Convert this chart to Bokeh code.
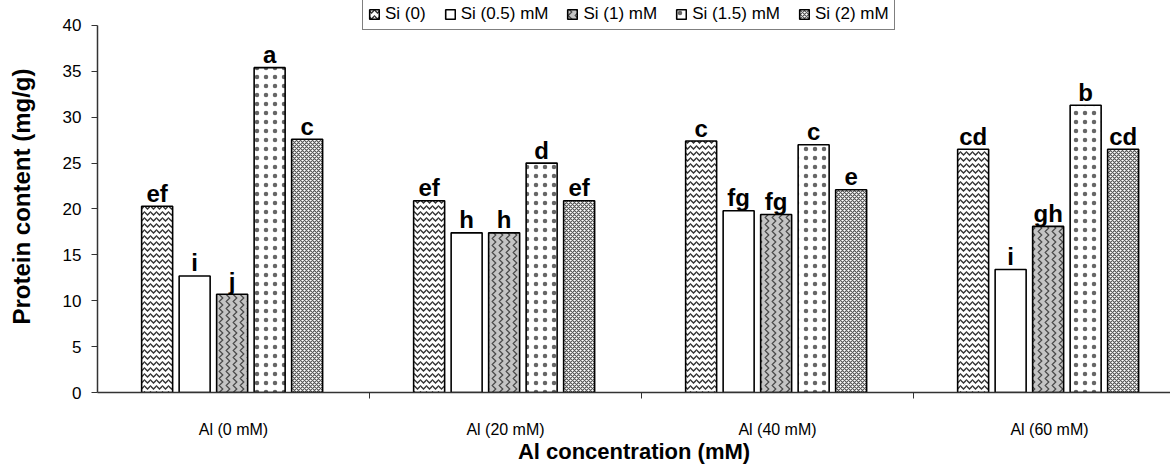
import numpy as np
from bokeh.plotting import figure
from bokeh.models import Range1d, FixedTicker, Legend, LegendItem, ColumnDataSource
from bokeh.core.properties import value
from bokeh.embed import file_html
from bokeh.resources import INLINE

# ---------------- data ----------------
groups = ["Al (0 mM)", "Al (20 mM)", "Al (40 mM)", "Al (60 mM)"]
series = ["Si (0)", "Si (0.5) mM", "Si (1) mM", "Si (1.5) mM", "Si (2) mM"]
si_0 = [20.3, 20.9, 27.4, 26.5]
si_05 = [12.7, 17.4, 19.8, 13.4]
si_1 = [10.7, 17.4, 19.4, 18.1]
si_15 = [35.4, 25.0, 27.0, 31.3]
si_2 = [27.6, 20.9, 22.1, 26.5]
letters_0 = ["ef", "ef", "c", "cd"]
letters_05 = ["i", "h", "fg", "i"]
letters_1 = ["j", "h", "fg", "gh"]
letters_15 = ["a", "d", "c", "b"]
letters_2 = ["c", "ef", "e", "cd"]
y_ticks = [0, 5, 10, 15, 20, 25, 30, 35, 40]

values_all = [si_0, si_05, si_1, si_15, si_2]
letters_all = [letters_0, letters_05, letters_1, letters_15, letters_2]

FONT = "Liberation Sans"

# ---------------- styles ----------------
styles = [
    dict(fill_color="white", hatch_pattern="horizontal_wave", hatch_color="#333333", hatch_scale=6, hatch_weight=1.4),
    dict(fill_color="white"),
    dict(fill_color="#c4c4c4", hatch_pattern="vertical_wave", hatch_color="#4a4a4a", hatch_scale=7, hatch_weight=1.3),
    dict(fill_color="white", hatch_pattern="dot", hatch_color="#666666", hatch_scale=9, hatch_weight=1.0),
    dict(fill_color="white", hatch_pattern="diagonal_cross", hatch_color="#555555", hatch_scale=4, hatch_weight=1.2),
]

px_per_unit = 272.0
step = 37.5 / px_per_unit
bar_w = 31.0 / px_per_unit
y_top = 40 + 25 / 9.2

p = figure(width=1170, height=466, output_backend="svg", toolbar_location=None,
           x_range=Range1d(0, 1073 / px_per_unit), y_range=Range1d(0, y_top),
           min_border_left=97, min_border_right=0, min_border_top=0, min_border_bottom=73)
p.outline_line_color = None
p.xgrid.visible = False
p.ygrid.visible = False
p.background_fill_color = "white"

centers = np.arange(len(groups)) + 0.5
items = []
for k, (vals, labs, st, name) in enumerate(zip(values_all, letters_all, styles, series)):
    xs = centers + (k - 2) * step - 0.005
    src = ColumnDataSource(dict(x=xs, top=vals, lab=labs))
    r = p.vbar(x="x", top="top", width=bar_w, source=src, line_color="black", line_width=1.6, **st)
    items.append(LegendItem(label=name, renderers=[r]))
    p.text(x="x", y="top", text="lab", source=src, text_align="center", text_baseline="alphabetic",
           y_offset=-13, text_font=value(FONT), text_font_style="bold", text_font_size="24px",
           text_color="black")

# x axis
xa = p.xaxis[0]
xa.ticker = FixedTicker(ticks=list(centers), minor_ticks=[1, 2, 3])
xa.major_label_overrides = {float(c): g for c, g in zip(centers, groups)}
xa.major_tick_out = 0
xa.major_tick_in = 0
xa.minor_tick_out = 6
xa.minor_tick_in = 0
xa.minor_tick_line_color = "#333333"
xa.axis_line_color = "#333333"
xa.axis_line_width = 1.5
xa.major_label_standoff = 22
xa.major_label_text_font = FONT
xa.major_label_text_font_size = "16px"
xa.major_label_text_color = "black"
xa.axis_label = "Al concentration (mM)"
xa.axis_label_text_font = FONT
xa.axis_label_text_font_style = "bold"
xa.axis_label_text_font_size = "22px"
xa.axis_label_text_color = "black"
xa.axis_label_standoff = -2

# y axis
ya = p.yaxis[0]
ya.ticker = FixedTicker(ticks=y_ticks)
ya.bounds = (0, 40)
ya.major_tick_out = 6
ya.major_tick_in = 0
ya.minor_tick_out = 0
ya.minor_tick_in = 0
ya.major_tick_line_color = "#333333"
ya.axis_line_color = "#333333"
ya.axis_line_width = 1.5
ya.major_label_standoff = 10
ya.major_label_text_font = FONT
ya.major_label_text_font_size = "17px"
ya.major_label_text_color = "black"
ya.axis_label = "Protein content (mg/g)"
ya.axis_label_text_font = FONT
ya.axis_label_text_font_style = "bold"
ya.axis_label_text_font_size = "24px"
ya.axis_label_text_color = "black"
ya.axis_label_standoff = 25

legend = Legend(items=items, orientation="horizontal", location=(265, 362))
legend.label_text_font = FONT
legend.label_text_font_size = "17px"
legend.label_text_color = "black"
legend.glyph_width = 12
legend.glyph_height = 12
legend.label_standoff = 5
legend.spacing = 18
legend.padding = 5
legend.margin = 0
legend.border_line_color = "black"
legend.border_line_width = 1
legend.background_fill_color = "white"
legend.background_fill_alpha = 1
p.add_layout(legend)

open("out.html", "w").write(file_html(p, INLINE))
